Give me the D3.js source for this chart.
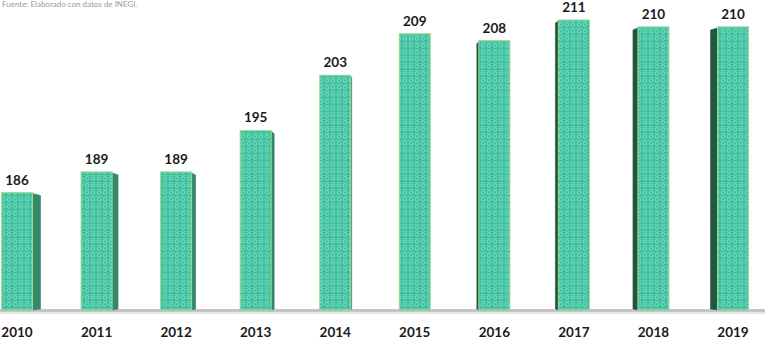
<!DOCTYPE html>
<html><head><meta charset="utf-8">
<script src="https://cdn.jsdelivr.net/npm/d3@7"></script>
<style>html,body{margin:0;padding:0;background:#fff;}svg{display:block;}</style>
</head><body>
<script>
const years = ["2010","2011","2012","2013","2014","2015","2016","2017","2018","2019"];
const values = [186,189,189,195,203,209,208,211,210,210];
const sourceNote = "Fuente: Elaborado con datos de INEGI.";

const W = 765, H = 358;
const svg = d3.select("body").append("svg").attr("width", W).attr("height", H);
const defs = svg.append("defs");
const pat = defs.append("pattern").attr("id","hex").attr("patternUnits","userSpaceOnUse")
  .attr("width",6).attr("height",7);
pat.append("rect").attr("width",6).attr("height",7).attr("fill","#3dbf9f");
pat.append("circle").attr("cx",3).attr("cy",3.5).attr("r",1.8).attr("fill","none")
  .attr("stroke","#8fe3c8").attr("stroke-width",0.8);
pat.append("rect").attr("x",0).attr("y",0).attr("width",6).attr("height",0.6).attr("fill","#6fd6b6");

const x = d3.scalePoint().domain(years).range([17, 733]);
const y = d3.scaleLinear().domain([169, 211]).range([310, 20]);
const bw = 31, vp = 400, k = 0.02;

// source note
svg.append("text").attr("x",2).attr("y",7).attr("font-family","Lato, sans-serif")
  .attr("font-size",8).attr("fill","#999").text(sourceNote);

// floor
svg.append("rect").attr("x",0).attr("y",309).attr("width",W).attr("height",3).attr("fill","#c4c4c4");
svg.append("rect").attr("x",0).attr("y",312).attr("width",W).attr("height",2).attr("fill","#e6e6e6");

const g = svg.append("g");
years.forEach((yr,i)=>{
  const c = x(yr), top = y(values[i]), base = y(169);
  const x0 = c - bw/2, x1 = c + bw/2;
  const sw = Math.max(0, Math.round(Math.abs(c - vp) * k));
  const off = 3;
  if (sw > 0) {
    let pts;
    if (c < vp) {
      pts = [[x1,top+1],[x1+sw,top+off],[x1+sw,base-1],[x1,base]];
      g.append("polygon").attr("points",pts.join(" ")).attr("fill","#34896c").attr("stroke","#2a7058").attr("stroke-width",0.5);
    } else {
      pts = [[x0,top+1],[x0-sw,top+off],[x0-sw,base-1],[x0,base]];
      g.append("polygon").attr("points",pts.join(" ")).attr("fill","#21573f").attr("stroke","#1b4a35").attr("stroke-width",0.5);
    }
  }
  g.append("rect").attr("x",x0).attr("y",top).attr("width",bw).attr("height",base-top)
    .attr("fill","url(#hex)").attr("stroke","#9bd98c").attr("stroke-width",1);
  g.append("text").attr("x",c).attr("y",top-8).attr("text-anchor","middle")
    .attr("font-family","Lato, sans-serif").attr("font-weight","bold").attr("font-size",13.5)
    .attr("fill","#1a1a1a").text(values[i]);
  g.append("text").attr("x",c).attr("y",337).attr("text-anchor","middle")
    .attr("font-family","Lato, sans-serif").attr("font-weight","bold").attr("font-size",13.5)
    .attr("fill","#1a1a1a").text(yr);
});
</script>
</body></html>
